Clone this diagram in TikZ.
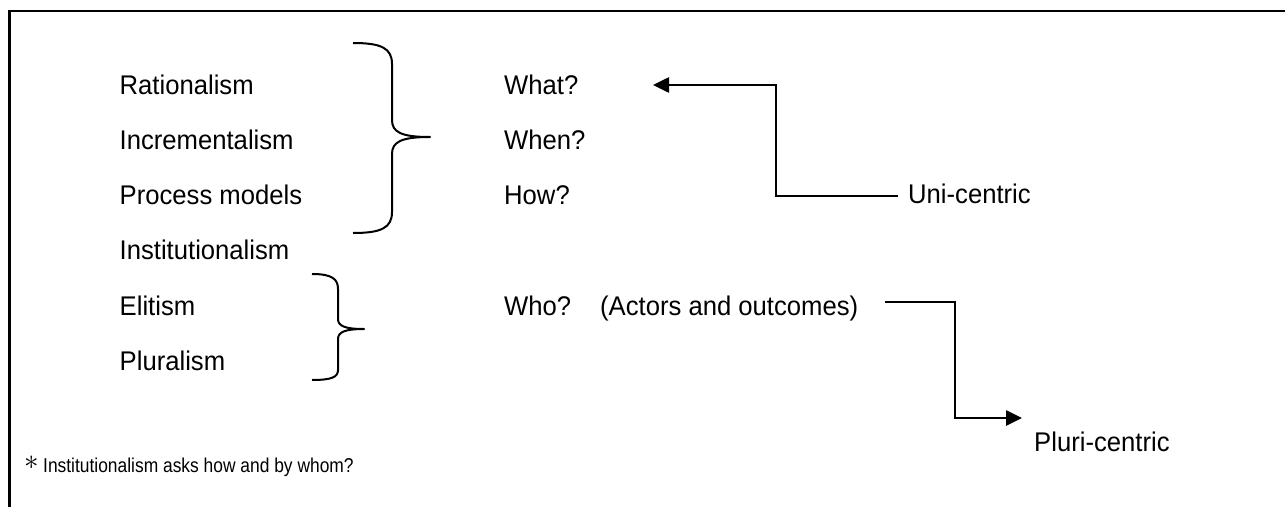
\documentclass[tikz,border=0pt]{standalone}
\usepackage{fontspec}
\setmainfont{Liberation Sans}[FakeStretch=0.95]
\newfontfamily\narrowsans{Liberation Sans}[FakeStretch=0.87]
\usetikzlibrary{arrows.meta}
\begin{document}
\begin{tikzpicture}[x=1pt,y=-1pt,
  term/.style={anchor=base west, inner sep=0pt, font=\fontsize{27}{30}\selectfont},
  notetext/.style={anchor=base west, inner sep=0pt, font=\narrowsans\fontsize{20}{22}\selectfont},
  border/.style={line width=2.3pt},
  bracestroke/.style={line width=2pt, line join=round},
  connector/.style={line width=2.6pt, -{Triangle[length=16pt,width=15pt]}},
]
\useasboundingbox (0,0) rectangle (1285,506);
\clip (0,0) rectangle (1285,506);
\fill[white] (0,0) rectangle (1285,506);
% open frame: top and left edges only
\draw[border] (1295,11) -- (9.5,11) -- (9.5,516);

% theories
\node[term] (rat)  at (119.5,94)  {Rationalism};
\node[term] (inc)  at (119.5,149) {Incrementalism};
\node[term] (proc) at (119.5,204) {Process models};
\node[term] (inst) at (119.5,259) {Institutionalism};
\node[term] (eli)  at (119.5,315) {Elitism};
\node[term] (plu)  at (119.5,370) {Pluralism};

% questions
\node[term] (what) at (504,94)  {What?};
\node[term] (when) at (504,149) {When?};
\node[term] (how)  at (504,204) {How?};
\node[term] (who)  at (504,315) {Who?\hspace{29pt}(Actors and outcomes)};

% perspectives
\node[term] (uni)   at (908,203)  {Uni-centric};
\node[term] (pluri) at (1034,451) {Pluri-centric};

% braces grouping the theories
\draw[bracestroke] (353,43) .. controls (381,43) and (392,48) .. (392,64)
  -- (392,120) .. controls (392,132) and (401,137) .. (430,137)
  .. controls (401,137) and (392,142) .. (392,154)
  -- (392,212) .. controls (392,228) and (381,233) .. (353,233);
\draw[bracestroke] (312,274) .. controls (332,274) and (338,279) .. (338,289)
  -- (338,319) .. controls (338,326) and (345,329) .. (364,329)
  .. controls (345,329) and (338,332) .. (338,339)
  -- (338,370) .. controls (338,377) and (332,380) .. (312,380);

% elbow connectors
\coordinate (unibend) at (776,85);
\coordinate (unitip)  at (653,85);
\draw[connector] ([xshift=-10pt,yshift=7pt]uni.base west) -| (unibend) -- (unitip);

\coordinate (pluribend) at (955,418);
\coordinate (pluritip)  at (1022,418);
\draw[connector] ([xshift=27pt,yshift=13pt]who.base east) -| (pluribend) -- (pluritip);

% footnote
\node[notetext] (fn) at (24,472) {\makebox[19pt][l]{\raisebox{3pt}{\scalebox{1.4}{$\ast$}}}Institutionalism asks how and by whom?};
\end{tikzpicture}
\end{document}
